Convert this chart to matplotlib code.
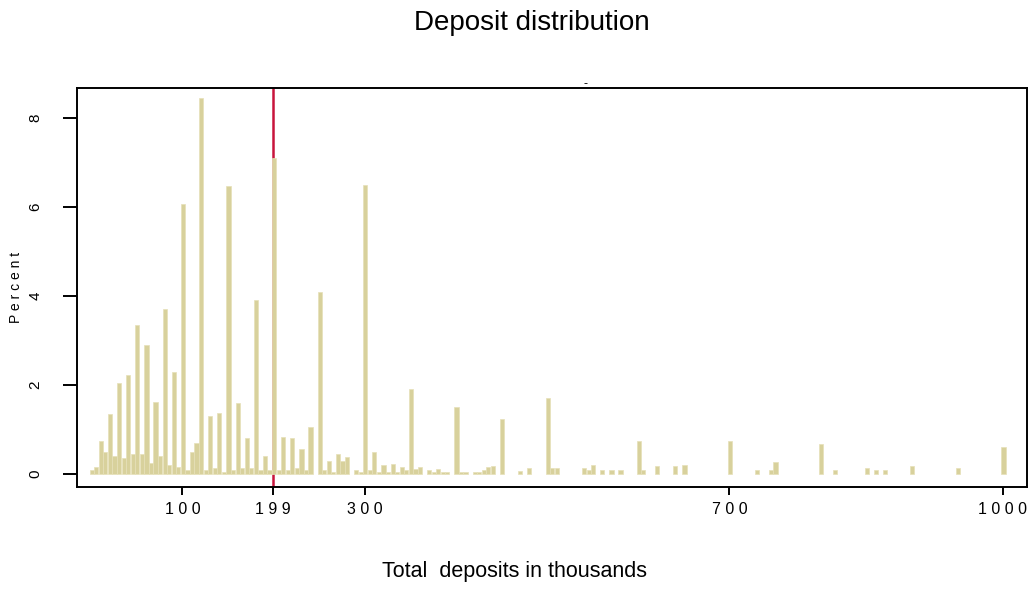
"""
Deposit distribution histogram (percent of banks by total deposits, in thousands).
Output: out.png
"""

import numpy as np
import matplotlib.pyplot as plt

# ── Data: left edge of each 5k bin and its share (%) ──────────────────────────
deposit_bins = [
    0, 5, 10, 15, 20, 25, 30, 35, 40, 45, 50, 55, 60, 65, 70, 75, 80, 85, 90, 95,
    100, 105, 110, 115, 120, 125, 130, 135, 140, 145, 150, 155, 160, 165, 170, 175,
    180, 185, 190, 195, 200, 205, 210, 215, 220, 225, 230, 235, 240,
    250, 255, 260, 265, 270, 275, 280, 290, 295,
    300, 305, 310, 315, 320, 325, 330, 335, 340, 345,
    350, 355, 360, 370, 375, 380, 385, 390,
    400, 405, 410, 420, 425, 430, 435, 440, 450, 470, 480,
    500, 505, 510, 540, 545, 550, 560, 570, 580,
    600, 605, 620, 640, 650, 700, 730, 745, 750,
    800, 815, 850, 860, 870, 900, 950, 1000,
]
percent = [
    0.09, 0.16, 0.74, 0.49, 1.35, 0.41, 2.05, 0.35, 2.22, 0.46, 3.35, 0.46, 2.90, 0.24, 1.62, 0.41, 3.71, 0.20, 2.29, 0.15,
    6.07, 0.10, 0.50, 0.69, 8.45, 0.10, 1.30, 0.13, 1.37, 0.05, 6.47, 0.10, 1.59, 0.13, 0.80, 0.13,
    3.90, 0.10, 0.41, 0.10, 7.10, 0.10, 0.83, 0.10, 0.80, 0.13, 0.56, 0.10, 1.05,
    4.09, 0.10, 0.30, 0.05, 0.45, 0.30, 0.38, 0.10, 0.05,
    6.50, 0.08, 0.49, 0.05, 0.20, 0.05, 0.22, 0.05, 0.15, 0.10,
    1.90, 0.12, 0.15, 0.10, 0.05, 0.12, 0.05, 0.05,
    1.50, 0.05, 0.05, 0.05, 0.05, 0.10, 0.16, 0.18, 1.24, 0.07, 0.13,
    1.70, 0.14, 0.14, 0.13, 0.10, 0.20, 0.10, 0.10, 0.10,
    0.75, 0.10, 0.17, 0.17, 0.20, 0.74, 0.09, 0.09, 0.28,
    0.67, 0.10, 0.14, 0.10, 0.10, 0.18, 0.14, 0.60,
]

marker_value = 199
xtick_values = [100, 199, 300, 700, 1000]
ytick_values = [0, 2, 4, 6, 8]

# ── Style ─────────────────────────────────────────────────────────────────────
BAR_FILL = "#d8d19c"
BAR_EDGE = "#e6e0b8"
LINE_RED = "#c8143c"
FONT = ["Liberation Sans", "DejaVu Sans"]

plt.rcParams["font.family"] = FONT


def spaced(s: str) -> str:
    """Stata-like letter spacing for tick labels."""
    return " ".join(s)


fig = plt.figure(figsize=(10.30, 6.11), dpi=100)
fig.patch.set_facecolor("white")
ax = fig.add_axes([0.0748, 0.203, 0.922, 0.653])

ax.axvline(marker_value, color=LINE_RED, lw=1.8, zorder=1)
ax.bar(np.array(deposit_bins) + 0.6, percent, width=4.6,
       color=BAR_FILL, edgecolor=BAR_EDGE, linewidth=0.5, zorder=2)

ax.set_xlim(-15.5, 1026)
ax.set_ylim(-0.29, 8.67)

ax.set_xticks(xtick_values)
ax.set_xticklabels([spaced(str(v)) for v in xtick_values], fontsize=11.5)
ax.set_yticks(ytick_values)
ax.set_yticklabels([str(v) for v in ytick_values], fontsize=11,
                   rotation=90, va="center")

ax.tick_params(axis="x", length=6, width=1.4, pad=5)
ax.tick_params(axis="y", length=10, width=1.4, pad=15)
for sp in ax.spines.values():
    sp.set_linewidth(1.4)
    sp.set_color("black")

ax.set_ylabel("P e r c e n t", fontsize=10, labelpad=4)

fig.text(532 / 1030, 0.963, "Deposit distribution", ha="center", va="center", fontsize=20)
fig.text(0.5, 0.065, "Total  deposits in thousands", ha="center", va="center", fontsize=15.5)
fig.text(585 / 1030, 1 - 84 / 611, "-", ha="center", va="center", fontsize=9)

fig.savefig("out.png", dpi=100, facecolor=fig.get_facecolor())
plt.close(fig)
